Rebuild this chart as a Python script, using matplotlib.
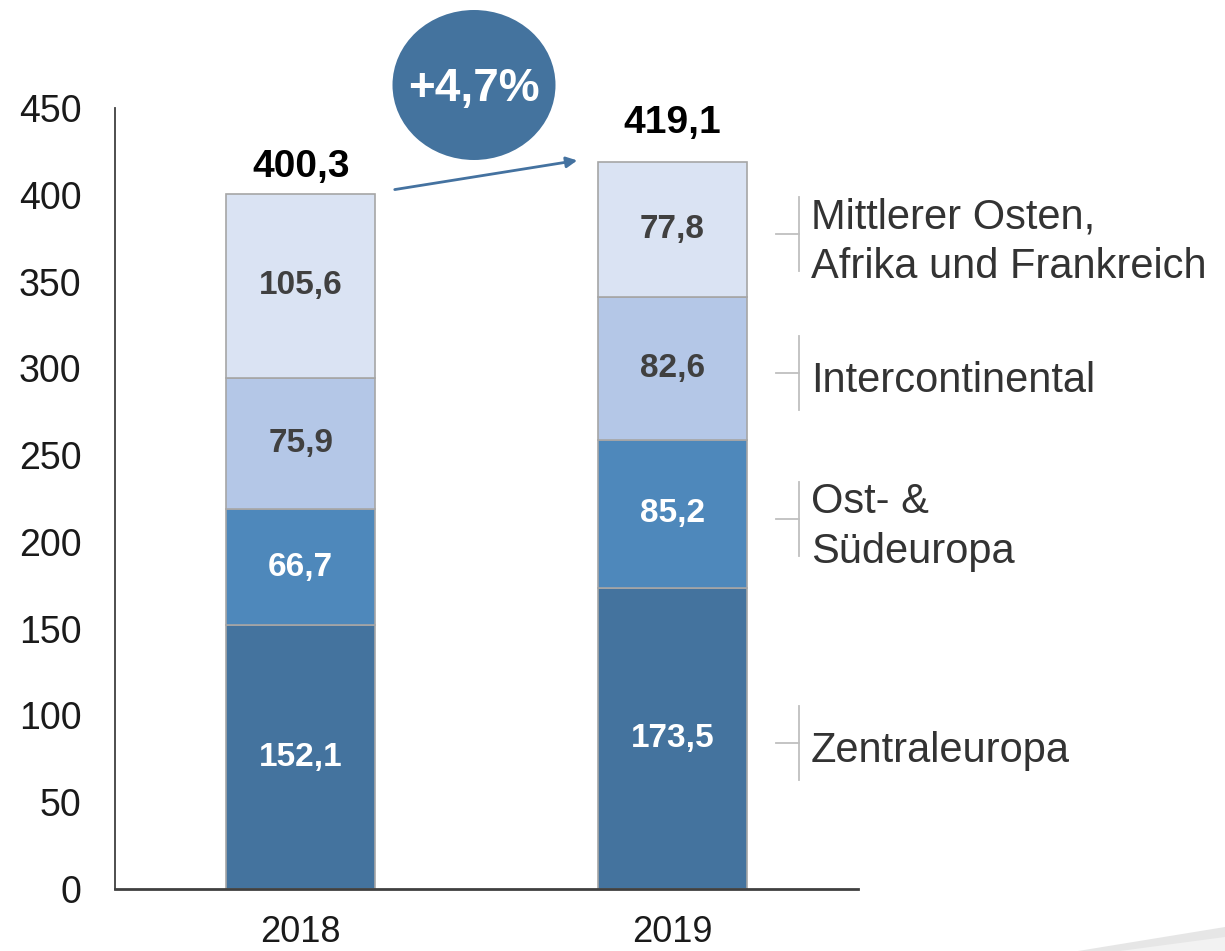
import matplotlib
matplotlib.use("Agg")
import matplotlib.pyplot as plt
from matplotlib.patches import Ellipse, Polygon, FancyArrowPatch
import numpy as np

plt.rcParams['font.family'] = ['Liberation Sans', 'DejaVu Sans']

years = ["2018", "2019"]
series = ["Zentraleuropa", "Ost- &\nSüdeuropa", "Intercontinental",
          "Mittlerer Osten,\nAfrika und Frankreich"]
values = {
    "Zentraleuropa": [152.1, 173.5],
    "Ost- &\nSüdeuropa": [66.7, 85.2],
    "Intercontinental": [75.9, 82.6],
    "Mittlerer Osten,\nAfrika und Frankreich": [105.6, 77.8],
}
totals = [400.3, 419.1]
growth_label = "+4,7%"
yticks = [0, 50, 100, 150, 200, 250, 300, 350, 400, 450]

colors = ["#44739E", "#4E88BB", "#B4C7E7", "#DAE3F3"]
label_colors = ["white", "white", "#404040", "#404040"]

fig = plt.figure(figsize=(12.25, 9.51), dpi=100)
ax = fig.add_axes([115/1225, 62/951, (858-115)/1225, (889-108)/951])

x = np.arange(len(years))
bottom = np.zeros(len(years))
seg_centers = []
for s, c, lc in zip(series, colors, label_colors):
    v = np.array(values[s])
    ax.bar(x, v, 0.4, bottom=bottom, color=c, edgecolor="#A6A6A6", linewidth=1.2, zorder=2)
    centers = bottom + v / 2
    seg_centers.append(centers)
    for xi, vi, ci in zip(x, v, centers):
        ax.text(xi, ci, f"{vi:.1f}".replace(".", ","), ha="center", va="center",
                fontsize=24, fontweight="bold", color=lc, zorder=3)
    bottom = bottom + v

total_offsets = [7, 15]
for xi, t, off in zip(x, totals, total_offsets):
    ax.annotate(f"{t:.1f}".replace(".", ","), (xi, t), xytext=(0, off),
                textcoords="offset points", ha="center", va="bottom",
                fontsize=28, fontweight="bold", color="black")

ax.set_xlim(-0.5, 1.5)
ax.set_ylim(0, 450)
ax.set_yticks(yticks)
ax.set_xticks(x)
ax.set_xticklabels(years)
ax.tick_params(axis="y", length=0, pad=24, labelsize=27, labelcolor="#1a1a1a")
ax.tick_params(axis="x", length=0, pad=19, labelsize=26, labelcolor="#1a1a1a")
for sp in ["top", "right"]:
    ax.spines[sp].set_visible(False)
ax.spines["left"].set_color("#404040")
ax.spines["left"].set_linewidth(1.3)
ax.spines["bottom"].set_color("#404040")
ax.spines["bottom"].set_linewidth(2)
ax.spines["left"].set_zorder(1)

# legend brackets aligned to 2019 segment centres
def data_to_fig_y(v):
    return ax.transData.transform((0, v))[1] / fig.bbox.height

fig.canvas.draw()
for s, cen in zip(series, seg_centers):
    yc = data_to_fig_y(cen[1]) - 5/951
    half = 37/951
    xv = 799/1225
    fig.add_artist(plt.Line2D([xv, xv], [yc - half, yc + half], color="#BFBFBF", lw=1.3))
    fig.add_artist(plt.Line2D([776/1225, xv], [yc, yc], color="#BFBFBF", lw=1.3))
    fig.text(811/1225, yc - 8/951, s, ha="left", va="center", fontsize=30,
             color="#333333", linespacing=1.33)

# growth circle and arrow
fig.add_artist(Ellipse((474/1225, 1 - 85/951), 163/1225, 150/951,
                       facecolor="#44739E", edgecolor="none", transform=fig.transFigure))
fig.text(474/1225, 1 - 89/951, growth_label, ha="center", va="center",
         fontsize=33, fontweight="bold", color="white")
fig.add_artist(FancyArrowPatch((392/1225, 1 - 190/951), (580/1225, 1 - 160/951),
                               transform=fig.transFigure, arrowstyle="-|>",
                               mutation_scale=16, color="#4472A0", lw=2))

# decorative corner shape
fig.add_artist(Polygon([[1078/1225, 0], [1, 24/951], [1, 0]], closed=True,
                       facecolor="#E6E6E6", edgecolor="none", transform=fig.transFigure))
fig.add_artist(Polygon([[1120/1225, 0], [1, 14/951], [1, 0]], closed=True,
                       facecolor="#F2F2F2", edgecolor="none", transform=fig.transFigure))

fig.savefig("out.png", dpi=100)
